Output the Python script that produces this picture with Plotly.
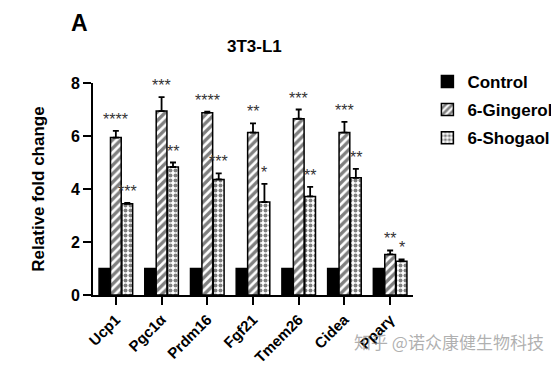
import plotly.graph_objects as go

genes = ["Ucp1", "Pgc1α", "Prdm16", "Fgf21", "Tmem26", "Cidea", "Pparγ"]
control = [1.0, 1.0, 1.0, 1.0, 1.0, 1.0, 1.0]
gingerol = [5.94, 6.94, 6.88, 6.13, 6.65, 6.13, 1.53]
gingerol_err = [0.25, 0.53, 0.04, 0.35, 0.35, 0.40, 0.15]
shogaol = [3.44, 4.83, 4.36, 3.51, 3.72, 4.42, 1.27]
shogaol_err = [0.04, 0.17, 0.23, 0.68, 0.36, 0.34, 0.07]
gingerol_sig = ["****", "***", "****", "**", "***", "***", "**"]
shogaol_sig = ["***", "**", "***", "*", "**", "**", "*"]
yticks = [0, 2, 4, 6, 8]

FONT = "Liberation Sans, Arial, sans-serif"
xs = list(range(len(genes)))

fig = go.Figure()
fig.add_trace(go.Bar(
    x=xs, y=control, name="<b>Control</b>", legendgroup="a",
    marker=dict(color="black", line=dict(color="black", width=1.5)),
))
fig.add_trace(go.Bar(
    x=xs, y=gingerol, name="<b>6-Gingerol</b>", legendgroup="b",
    marker=dict(color="white", line=dict(color="black", width=1.5),
                pattern=dict(shape="/", fgcolor="black", bgcolor="white", size=6, solidity=0.55)),
    error_y=dict(type="data", array=gingerol_err, arrayminus=[0]*7, symmetric=False,
                 color="black", thickness=1.8, width=3),
))
fig.add_trace(go.Bar(
    x=xs, y=shogaol, name="<b>6-Shogaol</b>", legendgroup="c",
    marker=dict(color="white", line=dict(color="black", width=1.5),
                pattern=dict(shape=".", fgcolor="black", bgcolor="white", size=5, solidity=0.5)),
    error_y=dict(type="data", array=shogaol_err, arrayminus=[0]*7, symmetric=False,
                 color="black", thickness=1.8, width=3),
))

for i in xs:
    fig.add_annotation(x=i, y=gingerol[i] + gingerol_err[i], text=gingerol_sig[i],
                       showarrow=False, yanchor="bottom", yshift=1,
                       font=dict(family=FONT, size=16, color="#333"))
    fig.add_annotation(x=i + 0.25, y=shogaol[i] + shogaol_err[i], text=shogaol_sig[i],
                       showarrow=False, yanchor="bottom", yshift=1,
                       font=dict(family=FONT, size=16, color="#333"))

fig.add_annotation(xref="paper", yref="paper", x=-0.075, y=1.285, xanchor="left", yanchor="middle",
                   text="<b>A</b>", showarrow=False, font=dict(family=FONT, size=23, color="black"))
fig.add_annotation(xref="paper", yref="paper", x=0.506, y=1.17, xanchor="center", yanchor="middle",
                   text="<b>3T3-L1</b>", showarrow=False, font=dict(family=FONT, size=17, color="black"))
fig.add_annotation(xref="paper", yref="paper", x=0.81, y=-0.22, xanchor="left", yanchor="middle",
                   text="知乎 @诺众康健生物科技", showarrow=False,
                   font=dict(family="Noto Sans CJK SC", size=17, color="rgba(150,150,150,0.75)"))

fig.update_layout(
    width=551, height=360,
    margin=dict(l=85, r=146, t=75, b=73, autoexpand=False),
    plot_bgcolor="white", paper_bgcolor="white",
    barmode="group", bargap=0.25, bargroupgap=0.06,
    font=dict(family=FONT, color="black"),
    showlegend=True,
    legend=dict(x=1.045, y=1.09, xanchor="left", yanchor="top",
                font=dict(family=FONT, size=17, color="black"),
                tracegroupgap=3, bgcolor="rgba(0,0,0,0)"),
    xaxis=dict(range=[-0.5, 6.5], tickmode="array", tickvals=xs,
               ticktext=["<b>%s</b>" % g for g in genes], tickangle=-45,
               showline=True, linecolor="black", linewidth=2,
               ticks="outside", ticklen=8, tickwidth=2, tickcolor="black",
               showgrid=False, zeroline=False,
               tickfont=dict(family=FONT, size=15, color="black")),
    yaxis=dict(range=[0, 8], tickvals=yticks,
               ticktext=["<b>%d</b>" % v for v in yticks],
               showline=True, linecolor="black", linewidth=2,
               ticks="outside", ticklen=8, tickwidth=2, tickcolor="black",
               showgrid=False, zeroline=False,
               tickfont=dict(family=FONT, size=16, color="black"),
               title=dict(text="<b>Relative fold change</b>", standoff=22,
                          font=dict(family=FONT, size=17, color="black"))),
)

fig.write_html("out.html")
